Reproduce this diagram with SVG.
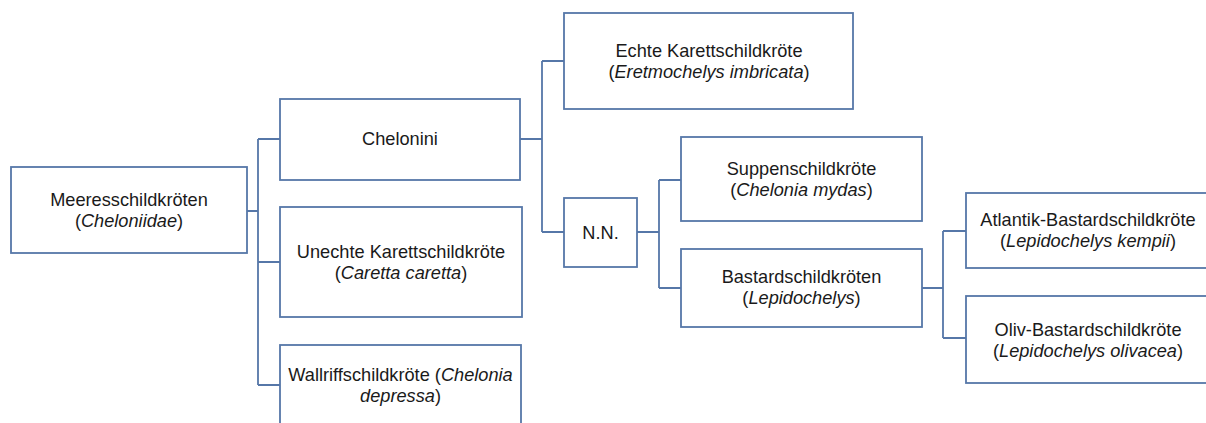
<svg xmlns="http://www.w3.org/2000/svg" width="1206" height="423" viewBox="0 0 1206 423">
<style>
.box{fill:#ffffff;stroke:#5677a8;stroke-width:1.8}
.con{fill:none;stroke:#5677a8;stroke-width:1.8}
text{font-family:"Liberation Sans",Arial,sans-serif;font-size:18.2px;fill:#1a1a1a;text-anchor:middle}
.i{font-style:italic}
</style>
<rect width="1206" height="423" fill="#ffffff"/>
<g id="connectors">
<path class="con" d="M247,211H258M258,139V385M258,139H280M258,262H280M258,385H280"/>
<path class="con" d="M520,139H542M542,61V232M542,61H564M542,232H564"/>
<path class="con" d="M637,232H659M659,180V288M659,180H681M659,288H681"/>
<path class="con" d="M922,288H943M943,231V338M943,231H966M943,338H966"/>
</g>
<g id="root">
<rect class="box" x="11" y="167" width="236" height="86"/>
<text x="129" y="206">Meeresschildkröten</text>
<text x="129" y="227">(<tspan class="i">Cheloniidae</tspan>)</text>
</g>
<g id="chelonini">
<rect class="box" x="280" y="99" width="240" height="81"/>
<text x="400" y="145">Chelonini</text>
</g>
<g id="unechte">
<rect class="box" x="280" y="207" width="242" height="110"/>
<text x="401" y="258">Unechte Karettschildkröte</text>
<text x="401" y="279">(<tspan class="i">Caretta caretta</tspan>)</text>
</g>
<g id="wallriff">
<rect class="box" x="280" y="345" width="241" height="92"/>
<text x="400.5" y="381">Wallriffschildkröte (<tspan class="i">Chelonia</tspan></text>
<text x="400.5" y="402"><tspan class="i">depressa</tspan>)</text>
</g>
<g id="echte">
<rect class="box" x="564" y="13" width="289" height="96"/>
<text x="709" y="57">Echte Karettschildkröte</text>
<text x="709" y="78">(<tspan class="i">Eretmochelys imbricata</tspan>)</text>
</g>
<g id="nn">
<rect class="box" x="564" y="198" width="73" height="69"/>
<text x="600.5" y="239">N.N.</text>
</g>
<g id="suppen">
<rect class="box" x="681" y="137" width="241" height="84"/>
<text x="801.5" y="175">Suppenschildkröte</text>
<text x="801.5" y="196">(<tspan class="i">Chelonia mydas</tspan>)</text>
</g>
<g id="bastard">
<rect class="box" x="681" y="249" width="241" height="78"/>
<text x="801.5" y="283">Bastardschildkröten</text>
<text x="801.5" y="304">(<tspan class="i">Lepidochelys</tspan>)</text>
</g>
<g id="atlantik">
<rect class="box" x="966" y="193" width="244" height="75"/>
<text x="1088" y="226">Atlantik-Bastardschildkröte</text>
<text x="1088" y="247">(<tspan class="i">Lepidochelys kempii</tspan>)</text>
</g>
<g id="oliv">
<rect class="box" x="966" y="296" width="244" height="87"/>
<text x="1088" y="336">Oliv-Bastardschildkröte</text>
<text x="1088" y="357">(<tspan class="i">Lepidochelys olivacea</tspan>)</text>
</g>
</svg>
